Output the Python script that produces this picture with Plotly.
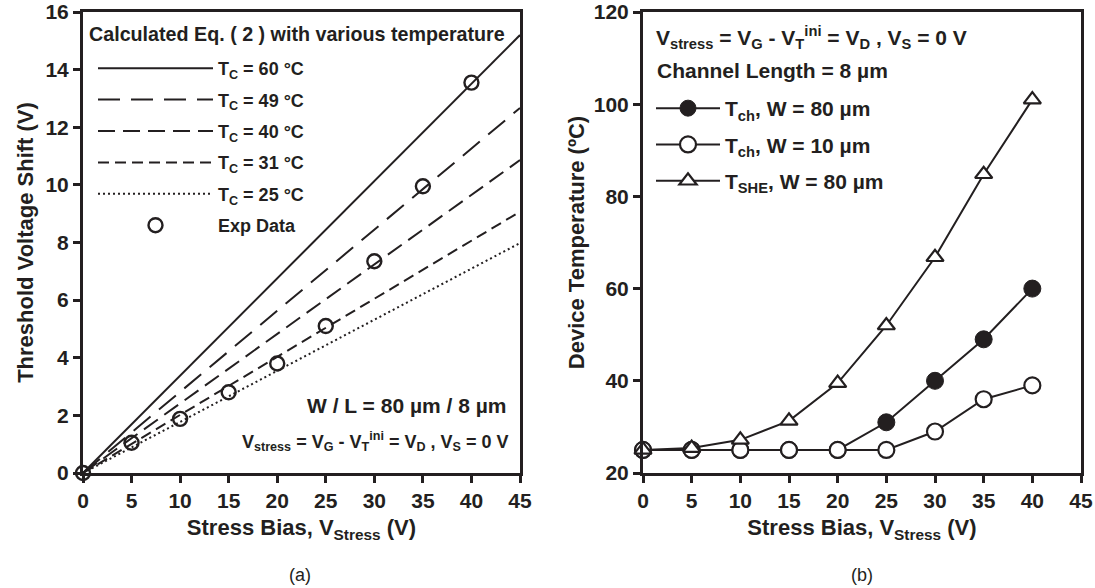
import plotly.graph_objects as go

# ---- data, panel (a) ----
stress_v = [0, 5, 10, 15, 20, 25, 30, 35, 40]
exp_shift = [0, 1.05, 1.88, 2.8, 3.8, 5.1, 7.35, 9.95, 13.55]

calc_x = [0, 45]
calc_60 = [0, 15.2]
calc_49 = [0, 12.67]
calc_40 = [0, 10.86]
calc_31 = [0, 9.07]
calc_25 = [0, 7.98]

# ---- data, panel (b) ----
t_ch_w80 = [25, 25, 25, 25, 25, 31, 40, 49, 60]
t_ch_w10 = [25, 25, 25, 25, 25, 25, 29, 36, 39]
t_she_w80 = [25, 25.4, 27.2, 31.3, 39.5, 52, 66.8, 84.8, 101]

x_ticks = [0, 5, 10, 15, 20, 25, 30, 35, 40, 45]

FONT = "Liberation Sans, Arial, sans-serif"
INK = "#231f20"
W, H = 1095, 588

fig = go.Figure()

calc = [
    (calc_60, "T<sub>C</sub> = 60 °C", "solid"),
    (calc_49, "T<sub>C</sub> = 49 °C", "22px,11px"),
    (calc_40, "T<sub>C</sub> = 40 °C", "17px,8px"),
    (calc_31, "T<sub>C</sub> = 31 °C", "11px,6px"),
    (calc_25, "T<sub>C</sub> = 25 °C", "2px,3px"),
]
for i, (vals, name, dash) in enumerate(calc):
    fig.add_trace(go.Scatter(
        x=calc_x, y=vals, mode="lines", name=name,
        line=dict(color=INK, width=2, dash=dash),
        xaxis="x", yaxis="y", legend="legend", legendgroup=f"a{i}",
        cliponaxis=False))

fig.add_trace(go.Scatter(
    x=stress_v, y=exp_shift, mode="markers", name="Exp Data",
    marker=dict(symbol="circle-open", size=14, color=INK, line=dict(width=2.4)),
    xaxis="x", yaxis="y", legend="legend", legendgroup="a9", cliponaxis=False))

fig.add_trace(go.Scatter(
    x=stress_v, y=t_ch_w80, mode="lines+markers", name="T<sub>ch</sub>, W = 80 µm",
    line=dict(color=INK, width=2),
    marker=dict(symbol="circle", size=17, color=INK, line=dict(color=INK, width=1)),
    xaxis="x2", yaxis="y2", legend="legend2", legendgroup="b1", cliponaxis=False))
fig.add_trace(go.Scatter(
    x=stress_v, y=t_ch_w10, mode="lines+markers", name="T<sub>ch</sub>, W = 10 µm",
    line=dict(color=INK, width=2),
    marker=dict(symbol="circle", size=16, color="white", line=dict(color=INK, width=2.2)),
    xaxis="x2", yaxis="y2", legend="legend2", legendgroup="b2", cliponaxis=False))
fig.add_trace(go.Scatter(
    x=stress_v, y=t_she_w80, mode="lines+markers", name="T<sub>SHE</sub>, W = 80 µm",
    line=dict(color=INK, width=2),
    marker=dict(symbol="triangle-up", size=15, color="white", line=dict(color=INK, width=2.2)),
    xaxis="x2", yaxis="y2", legend="legend2", legendgroup="b3", cliponaxis=False))


def px_x(p):
    return p / W


def px_y(p):
    return 1 - p / H


axis_common = dict(
    showline=True, linecolor=INK, linewidth=3, mirror=True,
    ticks="outside", ticklen=7, tickwidth=3, tickcolor=INK,
    showgrid=False, zeroline=False, automargin=False,
    tickfont=dict(family=FONT, size=21, color=INK, weight="bold"),
)
title_font = dict(family=FONT, size=22, color=INK, weight="bold")

fig.update_layout(
    width=W, height=H,
    margin=dict(l=0, r=0, t=0, b=0, pad=0, autoexpand=False),
    paper_bgcolor="white", plot_bgcolor="white",
    font=dict(family=FONT, color=INK),
    xaxis=dict(domain=[px_x(83), px_x(520)], range=[0, 45], tickvals=x_ticks,
               anchor="y", **axis_common,
               title=dict(text="Stress Bias, V<sub>Stress</sub> (V)", standoff=9, font=title_font)),
    yaxis=dict(domain=[px_y(473), px_y(12)], range=[0, 16], dtick=2,
               anchor="x", **axis_common,
               title=dict(text="Threshold Voltage Shift (V)", standoff=6, font=title_font)),
    xaxis2=dict(domain=[px_x(643), px_x(1081)], range=[0, 45], tickvals=x_ticks,
                anchor="y2", **axis_common,
                title=dict(text="Stress Bias, V<sub>Stress</sub> (V)", standoff=9, font=title_font)),
    yaxis2=dict(domain=[px_y(473), px_y(12)], range=[20, 120], dtick=20,
                anchor="x2", **axis_common,
                title=dict(text="Device Temperature (ºC)", standoff=4, font=title_font)),
    showlegend=True,
    legend=dict(
        x=px_x(93), y=px_y(50), xanchor="left", yanchor="top",
        bgcolor="rgba(0,0,0,0)", borderwidth=0,
        traceorder="grouped", tracegroupgap=5, itemwidth=115,
        font=dict(family=FONT, size=18, color=INK, weight="bold"),
    ),
    legend2=dict(
        x=px_x(651), y=px_y(88), xanchor="left", yanchor="top",
        bgcolor="rgba(0,0,0,0)", borderwidth=0,
        traceorder="grouped", tracegroupgap=6, itemwidth=64,
        font=dict(family=FONT, size=21, color=INK, weight="bold"),
    ),
    annotations=[
        dict(text="Calculated Eq. ( 2 ) with various temperature", xref="paper", yref="paper",
             x=px_x(87), y=px_y(34), xanchor="left", yanchor="middle", showarrow=False,
             font=dict(family=FONT, size=19.7, color=INK, weight="bold")),
        dict(text="W / L = 80 µm / 8 µm", xref="paper", yref="paper",
             x=px_x(508), y=px_y(405), xanchor="right", yanchor="middle", showarrow=False,
             font=dict(family=FONT, size=21, color=INK, weight="bold")),
        dict(text="V<sub>stress</sub> = V<sub>G</sub> - V<sub>T</sub><sup>ini</sup> = V<sub>D</sub> , V<sub>S</sub> = 0 V",
             xref="paper", yref="paper",
             x=px_x(510), y=px_y(441), xanchor="right", yanchor="middle", showarrow=False,
             font=dict(family=FONT, size=18, color=INK, weight="bold")),
        dict(text="V<sub>stress</sub> = V<sub>G</sub> - V<sub>T</sub><sup>ini</sup> = V<sub>D</sub> , V<sub>S</sub> = 0 V",
             xref="paper", yref="paper",
             x=px_x(654), y=px_y(37), xanchor="left", yanchor="middle", showarrow=False,
             font=dict(family=FONT, size=21, color=INK, weight="bold")),
        dict(text="Channel Length = 8 µm", xref="paper", yref="paper",
             x=px_x(655), y=px_y(71), xanchor="left", yanchor="middle", showarrow=False,
             font=dict(family=FONT, size=21, color=INK, weight="bold")),
        dict(text="(a)", xref="paper", yref="paper",
             x=px_x(300), y=px_y(575), xanchor="center", yanchor="middle", showarrow=False,
             font=dict(family=FONT, size=18, color=INK)),
        dict(text="(b)", xref="paper", yref="paper",
             x=px_x(862), y=px_y(575), xanchor="center", yanchor="middle", showarrow=False,
             font=dict(family=FONT, size=18, color=INK)),
    ],
)

fig.write_html("out.html")
